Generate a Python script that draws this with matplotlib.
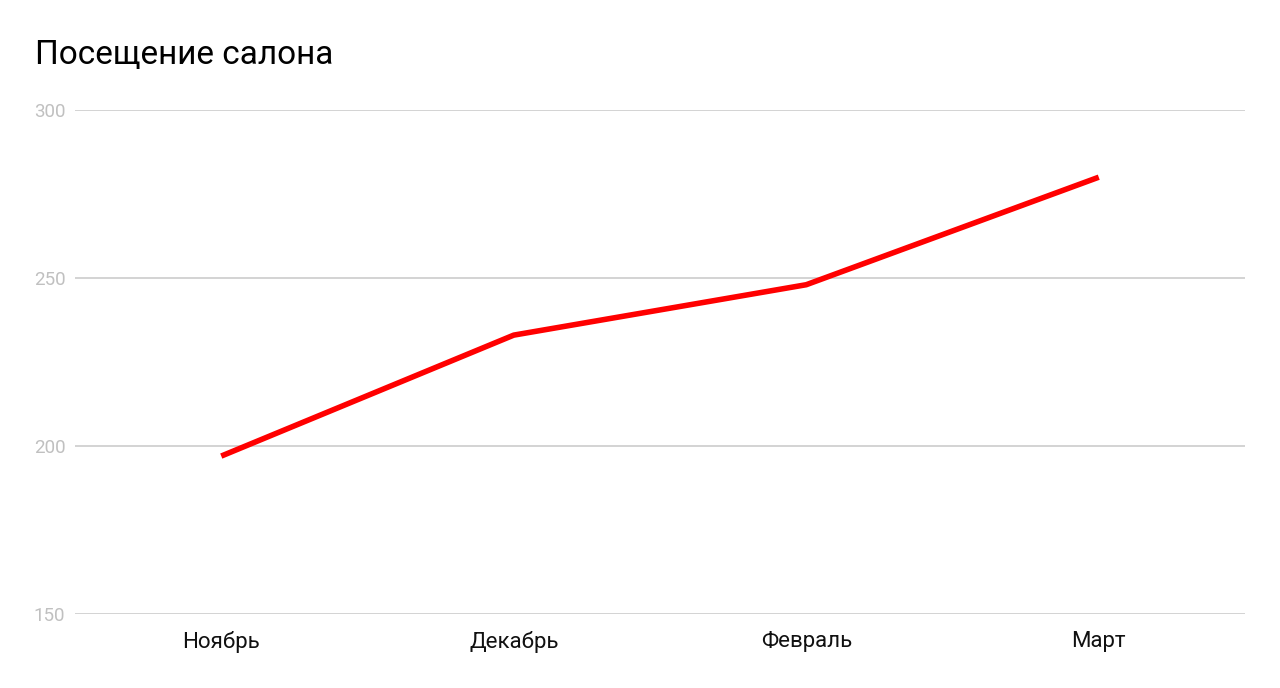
import matplotlib.pyplot as plt

plt.rcParams['font.family'] = ['Roboto', 'DejaVu Sans']

# data
months = ["Ноябрь", "Декабрь", "Февраль", "Март"]
visits = [197, 233, 248, 280]
yticks = [150, 200, 250, 300]

fig = plt.figure(figsize=(12.8, 6.88), dpi=100)
ax = fig.add_axes([75 / 1280, 1 - 614 / 688, 1170 / 1280, 504 / 688])

x = list(range(len(months)))
ax.plot(x, visits, color="#ff0000", linewidth=4.0, solid_capstyle="butt", zorder=3)

ax.set_xlim(-0.5, len(months) - 0.5)
ax.set_ylim(150, 300)
ax.set_yticks(yticks)
ax.set_xticks(x)
ax.set_xticklabels(months, fontsize=16, color="#111111")
for lbl in ax.get_yticklabels():
    lbl.set_fontsize(13.5)
    lbl.set_color("#c0c0c0")

ax.grid(axis="y", color="#cccccc", linewidth=1.2)
ax.set_axisbelow(True)
for s in ax.spines.values():
    s.set_visible(False)
ax.tick_params(axis="both", length=0)
ax.tick_params(axis="x", pad=12)
ax.tick_params(axis="y", pad=7)

fig.text(35 / 1280, 1 - 55 / 688, "Посещение салона", fontsize=24,
         color="#000000", ha="left", va="center")

plt.savefig("out.png", dpi=100)
